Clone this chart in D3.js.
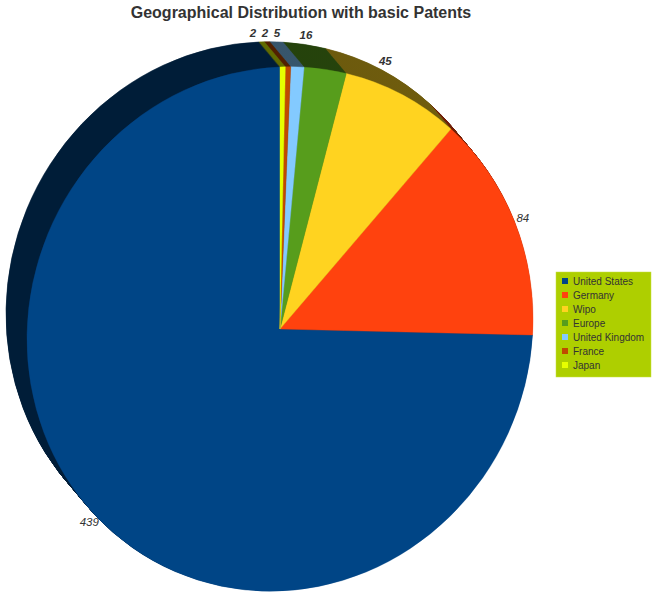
<!DOCTYPE html>
<html>
<head>
<meta charset="utf-8">
<script src="https://cdn.jsdelivr.net/npm/d3@7"></script>
<style>
  body { margin: 0; background: #fff; }
  text { font-family: "Liberation Sans", Arial, sans-serif; }
</style>
</head>
<body>
<script>
const countries = ['United States', 'Germany', 'Wipo', 'Europe', 'United Kingdom', 'France', 'Japan'];
const patents = [439, 84, 45, 16, 5, 2, 2];
const colors = ['#004586', '#ff420e', '#ffd320', '#579d1c', '#83caff', '#c04a00', '#e6ff00'];

const width = 665, height = 600;
const cx = 280, cy = 329, rx = 253, ry = 262, tilt = -10;
const depth = { dx: -21, dy: -25 };

const svg = d3.select('body').append('svg')
  .attr('width', width)
  .attr('height', height);

const data = countries.map((c, i) => ({ name: c, value: patents[i], color: colors[i] }));

// counter-clockwise from 12 o'clock, in legend order
const pie = d3.pie().value(d => d.value).sort(null).startAngle(0).endAngle(-2 * Math.PI);
const arcs = pie(data);
const arc = d3.arc().innerRadius(0).outerRadius(rx);

// flattened, slightly tilted disc
const face = (x, y) => `matrix(1,${tilt / rx},0,${ry / rx},${x},${y})`;
const project = (a, f) => [Math.sin(a) * rx * f, Math.sin(a) * tilt * f - Math.cos(a) * ry * f];

// side shading: darker colour with a sheen near the top
const defs = svg.append('defs');
const shade = [[0, 0.42], [0.3, 0.44], [0.35, 0.48], [0.41, 0.72], [0.43, 0.52], [0.47, 0.44], [0.5, 0.46], [0.52, 0.62], [0.6, 0.6], [0.68, 0.5], [0.75, 0.4], [1, 0.4]];
data.forEach((d, i) => {
  const g = defs.append('linearGradient')
    .attr('id', `side${i}`)
    .attr('gradientUnits', 'userSpaceOnUse')
    .attr('x1', 0).attr('x2', width).attr('y1', 0).attr('y2', 0);
  shade.forEach(s => {
    g.append('stop').attr('offset', s[0]).attr('stop-color', d3.interpolateRgb('#000', d.color)(s[1]));
  });
});

const pieG = svg.append('g');
const steps = 40;
for (let k = steps; k >= 1; k--) {
  const t = k / steps;
  pieG.append('g')
    .attr('transform', face(cx + depth.dx * t, cy + depth.dy * t))
    .selectAll('path')
    .data(arcs)
    .enter().append('path')
      .attr('d', arc)
      .attr('fill', (d, i) => `url(#side${i})`)
      .attr('stroke', (d, i) => `url(#side${i})`)
      .attr('stroke-width', 0.6);
}

pieG.append('g')
  .attr('transform', face(cx, cy))
  .selectAll('path')
  .data(arcs)
  .enter().append('path')
    .attr('d', arc)
    .attr('fill', d => d.data.color)
    .attr('stroke', d => d.data.color)
    .attr('stroke-width', 0.4);

// value labels
const mid = d => (d.startAngle + d.endAngle) / 2;
const gc = [cx + depth.dx / 2, cy + depth.dy / 2];
const labels = arcs.map(d => {
  const p0 = project(mid(d), 1.035);
  const top = [cx + p0[0], cy + p0[1]];
  const bot = [top[0] + depth.dx, top[1] + depth.dy];
  const dist = p => Math.hypot(p[0] - gc[0], p[1] - gc[1]);
  const back = dist(bot) > dist(top);
  const p = back ? bot : top;
  return { value: d.data.value, x: p[0], y: p[1], back: back };
});
// spread the crowded labels near the top
const sorted = labels.slice().sort((a, b) => b.x - a.x);
for (let i = 1; i < sorted.length; i++) {
  if (Math.abs(sorted[i].y - sorted[i - 1].y) < 10 && sorted[i - 1].x - sorted[i].x < 12) {
    sorted[i].x = sorted[i - 1].x - 12;
  }
}

svg.append('g').selectAll('text')
  .data(labels)
  .enter().append('text')
    .attr('x', d => d.x)
    .attr('y', d => d.y)
    .attr('text-anchor', 'middle')
    .attr('dy', '0.35em')
    .style('font-size', '11.5px')
    .style('font-style', 'italic')
    .style('font-weight', d => d.back ? 'bold' : 'normal')
    .style('fill', '#333')
    .text(d => d.value);

svg.append('text')
  .attr('x', 301)
  .attr('y', 18)
  .attr('text-anchor', 'middle')
  .style('font-size', '16px')
  .style('font-weight', 'bold')
  .style('fill', '#333')
  .text('Geographical Distribution with basic Patents');

// legend
const legend = svg.append('g').attr('transform', 'translate(556,272)');
legend.append('rect')
  .attr('width', 95)
  .attr('height', 105)
  .attr('fill', '#aecf00')
  .attr('stroke', '#c8e040')
  .attr('stroke-width', 0.5);

const y = d3.scaleBand().domain(countries).range([2, 100]);
const items = legend.selectAll('.item')
  .data(data)
  .enter().append('g')
    .attr('class', 'item')
    .attr('transform', d => `translate(0,${y(d.name) + y.bandwidth() / 2})`);
items.append('rect')
  .attr('x', 6)
  .attr('y', -3)
  .attr('width', 6)
  .attr('height', 6)
  .attr('fill', d => d.color);
items.append('text')
  .attr('x', 17)
  .attr('dy', '0.35em')
  .style('font-size', '10px')
  .style('fill', '#333')
  .text(d => d.name);
</script>
</body>
</html>
